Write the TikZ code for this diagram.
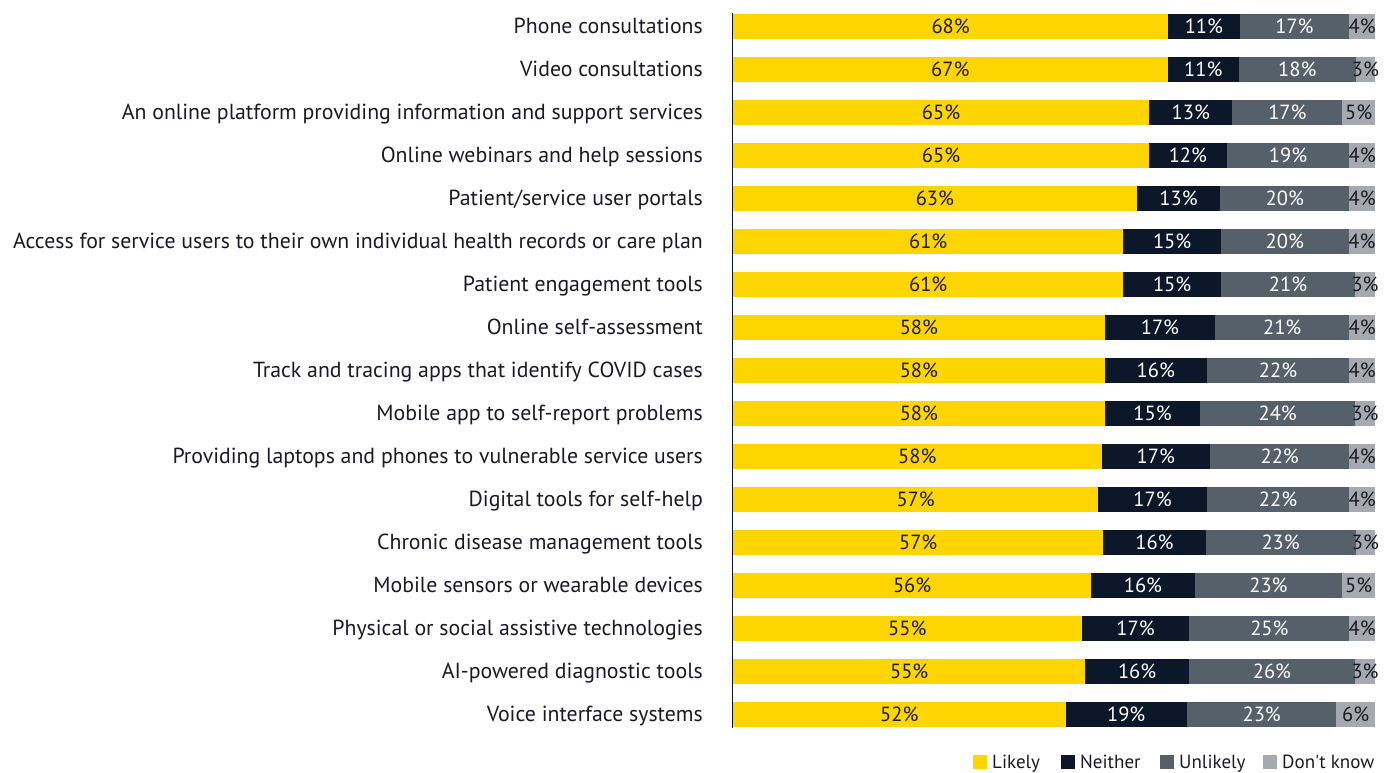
\documentclass[tikz,border=0pt]{standalone}
\usepackage{fontspec}
\setmainfont{PT Sans}
\newfontfamily\legfont{PT Sans}
\definecolor{cLikely}{HTML}{FFD500}
\definecolor{cNeither}{HTML}{0C1729}
\definecolor{cUnlikely}{HTML}{56606B}
\definecolor{cDK}{HTML}{A6AAB0}
\definecolor{cText}{HTML}{1A1A24}
\begin{document}
\begin{tikzpicture}[x=1pt,y=-1pt,
  cat/.style={anchor=base east,inner sep=0pt,text=cText,font=\fontsize{21.8}{24}\selectfont},
  pctdark/.style={anchor=base,inner sep=0pt,text=cText,font=\fontsize{20.5}{22}\selectfont},
  pctlight/.style={anchor=base,inner sep=0pt,text=white,font=\fontsize{20.5}{22}\selectfont},
  legtext/.style={anchor=base west,inner sep=0pt,text=cText,font=\legfont\fontsize{19}{20}\selectfont}]
\useasboundingbox (0,0) rectangle (1387,772);
\def\L{733}\def\W{642}
\foreach \i/\lab/\a/\b/\c/\pa/\pb/\pc/\pd in {
0/{Phone consultations}/.678/.789/.960/68/11/17/4,
1/{Video consultations}/.677/.788/.970/67/11/18/3,
2/{An online platform providing information and support services}/.648/.778/.949/65/13/17/5,
3/{Online webinars and help sessions}/.648/.769/.960/65/12/19/4,
4/{Patient/service user portals}/.629/.759/.960/63/13/20/4,
5/{Access for service users to their own individual health records or care plan}/.608/.760/.959/61/15/20/4,
6/{Patient engagement tools}/.608/.760/.969/61/15/21/3,
7/{Online self-assessment}/.579/.751/.960/58/17/21/4,
8/{Track and tracing apps that identify COVID cases}/.579/.738/.960/58/16/22/4,
9/{Mobile app to self-report problems}/.579/.728/.969/58/15/24/3,
10/{Providing laptops and phones to vulnerable service users}/.574/.743/.960/58/17/22/4,
11/{Digital tools for self-help}/.569/.738/.960/57/17/22/4,
12/{Chronic disease management tools}/.577/.736/.970/57/16/23/3,
13/{Mobile sensors or wearable devices}/.558/.719/.949/56/16/23/5,
14/{Physical or social assistive technologies}/.543/.711/.960/55/17/25/4,
15/{AI-powered diagnostic tools}/.549/.710/.969/55/16/26/3,
16/{Voice interface systems}/.518/.707/.940/52/19/23/6}
{
  \pgfmathsetmacro\y{26.5+43*\i}
  \pgfmathsetmacro\xa{\L+\W*\a}
  \pgfmathsetmacro\xb{\L+\W*\b}
  \pgfmathsetmacro\xc{\L+\W*\c}
  \pgfmathsetmacro\xd{\L+\W}
  \fill[cLikely] (\L,\y-12.5) rectangle (\xa,\y+12.5);
  \fill[cNeither] (\xa,\y-12.5) rectangle (\xb,\y+12.5);
  \fill[cUnlikely] (\xb,\y-12.5) rectangle (\xc,\y+12.5);
  \fill[cDK] (\xc,\y-12.5) rectangle (\xd,\y+12.5);
  \node[cat] (lab\i) at (703,\y+6.5) {\lab};
  \node[pctdark] (pa\i) at ({(\L+\xa)/2},\y+7) {\pa\%};
  \node[pctlight] (pb\i) at ({(\xa+\xb)/2},\y+7) {\pb\%};
  \node[pctlight] (pc\i) at ({(\xb+\xc)/2},\y+7) {\pc\%};
  \node[pctdark] (pd\i) at ({(\xc+\xd)/2},\y+7) {\pd\%};
}
\draw[cNeither,line width=1.3pt] (732.5,13) -- (732.5,727.5);
% legend
\fill[cLikely] (973,755) rectangle (987,769);
\node[legtext] (lg1) at (992,768) {Likely};
\fill[cNeither] (1061,755) rectangle (1075,769);
\node[legtext] (lg2) at (1080,768) {Neither};
\fill[cUnlikely] (1160,755) rectangle (1174,769);
\node[legtext] (lg3) at (1179,768) {Unlikely};
\fill[cDK] (1263,755) rectangle (1277,769);
\node[legtext] (lg4) at (1282,768) {Don't know};
\end{tikzpicture}
\end{document}
